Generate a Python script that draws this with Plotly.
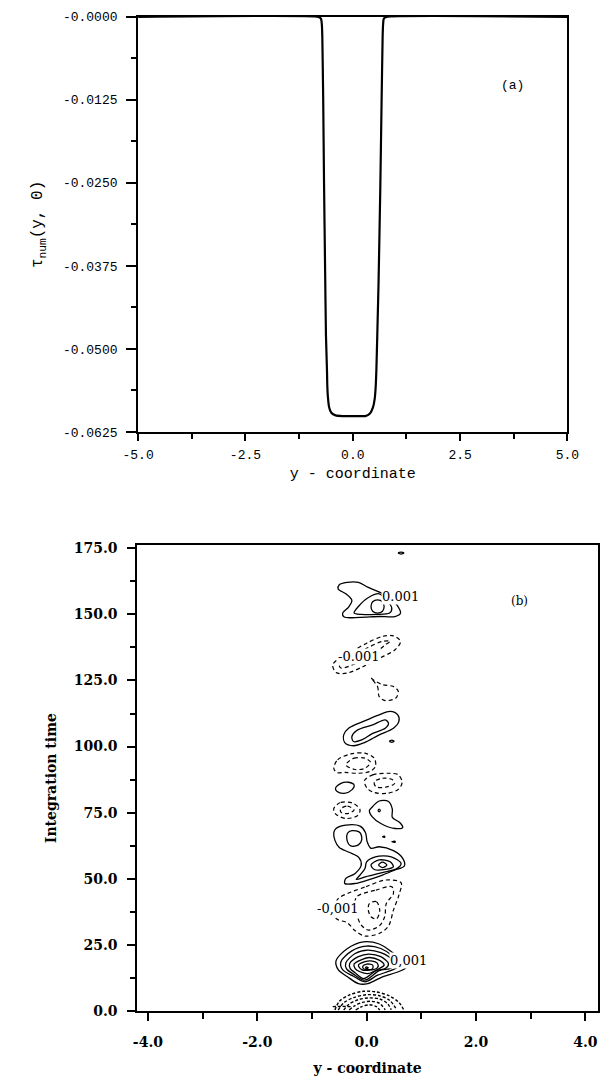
import plotly.graph_objects as go

# ---------------- Panel (a) data ----------------
a_y_coord = [-5.0, -0.80, -0.74, -0.72, -0.71, -0.69, -0.67, -0.645, -0.625, -0.60, -0.595,
             -0.58, -0.55, -0.50, -0.40, -0.23, 0.0, 0.29, 0.40, 0.47, 0.51, 0.535, 0.55,
             0.57, 0.60, 0.64, 0.67, 0.695, 0.705, 0.72, 0.78, 5.0]
a_tau = [0.0, 0.0, -0.0003, -0.0012, -0.003, -0.012, -0.025, -0.038, -0.048, -0.0535, -0.0553,
         -0.0572, -0.0588, -0.0596, -0.0600, -0.0601, -0.0601, -0.0601, -0.0597, -0.0588, -0.0575,
         -0.0555, -0.053, -0.048, -0.040, -0.026, -0.013, -0.003, -0.0012, -0.0003, 0.0, 0.0]
a_xticks = [-5.0, -2.5, 0.0, 2.5, 5.0]
a_xticklabels = ["-5.0", "-2.5", "0.0", "2.5", "5.0"]
a_yticks = [0.0, -0.0125, -0.025, -0.0375, -0.05, -0.0625]
a_yticklabels = ["-0.0000", "-0.0125", "-0.0250", "-0.0375", "-0.0500", "-0.0625"]

# ---------------- Panel (b) contour paths (y-coordinate, time) ----------------
# positive contours (solid)
p150_outer = [(-0.50, 161.2), (-0.36, 162.1), (-0.15, 162.1), (0.02, 160.3), (0.20, 158.7), (0.40, 156.8),
              (0.55, 153.7), (0.62, 150.5), (0.52, 149.2), (0.23, 149.2), (-0.12, 148.9), (-0.41, 149.0),
              (-0.44, 150.5), (-0.33, 152.8), (-0.27, 155.3), (-0.38, 157.8), (-0.52, 159.6)]
p150_mid = [(0.02, 156.2), (0.23, 157.8), (0.37, 155.3), (0.46, 152.4), (0.42, 150.5), (0.17, 150.0),
            (-0.09, 150.0), (-0.23, 150.5), (-0.15, 153.0)]
p150_inner = [(0.08, 153.0), (0.11, 154.8), (0.20, 155.5), (0.29, 154.8), (0.32, 153.0), (0.29, 151.2),
              (0.20, 150.5), (0.11, 151.2)]
p173_dash = [(0.58, 173.2), (0.63, 173.6), (0.68, 173.2), (0.63, 172.8)]
p105_outer = [(-0.42, 104.4), (-0.33, 106.9), (-0.06, 109.5), (0.23, 112.0), (0.43, 113.3), (0.57, 112.0),
              (0.59, 109.5), (0.49, 106.9), (0.23, 104.4), (-0.04, 101.5), (-0.24, 100.3), (-0.40, 101.5)]
p105_inner = [(-0.27, 103.8), (-0.18, 106.1), (0.11, 108.2), (0.34, 110.1), (0.40, 108.8), (0.34, 106.9),
              (0.11, 105.0), (-0.09, 102.5), (-0.24, 101.9)]
p102_dot = [(0.42, 102.0), (0.46, 102.4), (0.50, 102.0), (0.46, 101.6)]
p85_small = [(-0.57, 84.2), (-0.47, 86.1), (-0.33, 86.5), (-0.23, 85.5), (-0.27, 83.6), (-0.41, 82.3),
             (-0.54, 83.0)]
p75_tear = [(0.08, 76.6), (0.23, 79.4), (0.40, 79.2), (0.47, 76.3), (0.47, 73.2), (0.61, 71.2), (0.66, 69.4),
            (0.52, 69.0), (0.26, 70.9), (0.10, 73.5), (0.05, 75.8)]
p76_dot = [(0.21, 75.8), (0.23, 76.3), (0.25, 75.8), (0.23, 75.3)]
p66_dot = [(0.29, 65.9), (0.33, 66.1), (0.33, 65.7)]
p64_dot = [(0.46, 64.0), (0.52, 64.2), (0.52, 63.8)]
p58_outer = [(-0.56, 69.0), (-0.38, 70.3), (-0.12, 69.9), (-0.02, 67.4), (0.01, 64.0), (0.08, 61.5),
             (0.23, 62.1), (0.49, 60.6), (0.66, 57.7), (0.69, 54.8), (0.52, 53.3), (0.29, 51.4),
             (0.02, 49.5), (-0.21, 48.2), (-0.40, 48.2), (-0.38, 50.1), (-0.21, 52.0), (-0.10, 55.0),
             (-0.14, 58.0), (-0.32, 60.0), (-0.50, 61.8), (-0.58, 64.5), (-0.60, 67.5)]
p65_lobe = [(-0.35, 67.2), (-0.27, 68.2), (-0.12, 67.4), (-0.09, 64.7), (-0.15, 62.8), (-0.29, 62.4),
            (-0.36, 64.7)]
p55_mid = [(0.0, 56.4), (0.16, 58.3), (0.45, 58.3), (0.63, 55.8), (0.56, 53.9), (0.29, 52.3), (-0.01, 50.8),
           (-0.19, 49.7), (-0.12, 51.4), (-0.03, 53.9)]
p55_inner = [(0.08, 55.2), (0.23, 57.1), (0.43, 56.4), (0.49, 54.5), (0.34, 53.5), (0.14, 53.5)]
p55_core = [(0.22, 55.2), (0.29, 56.3), (0.37, 55.2), (0.29, 54.2)]
p16_l1 = [(-0.56, 18.9), (-0.35, 23.6), (-0.06, 26.1), (0.23, 25.3), (0.46, 22.3), (0.66, 18.9), (0.72, 16.4),
          (0.58, 14.8), (0.29, 12.9), (0.02, 10.3), (-0.15, 10.3), (-0.35, 12.9), (-0.52, 15.6)]
p16_l2 = [(-0.47, 18.6), (-0.27, 22.7), (-0.01, 24.5), (0.26, 23.6), (0.49, 20.5), (0.61, 17.3), (0.46, 15.4),
          (0.20, 13.5), (-0.03, 11.0), (-0.24, 13.1), (-0.44, 15.6)]
p16_l3 = [(-0.38, 18.2), (-0.21, 21.7), (0.02, 23.0), (0.26, 22.0), (0.46, 19.4), (0.46, 16.4), (0.23, 15.2),
          (-0.03, 11.6), (-0.24, 13.9), (-0.37, 16.0)]
p16_l4 = [(-0.31, 17.9), (-0.15, 20.5), (0.04, 21.5), (0.26, 20.5), (0.40, 17.9), (0.34, 16.0), (0.17, 15.2),
          (-0.05, 12.2), (-0.21, 14.4), (-0.30, 16.0)]
p16_l5 = [(-0.23, 17.7), (-0.09, 19.4), (0.05, 20.2), (0.23, 19.2), (0.32, 17.3), (0.23, 16.0), (0.02, 14.1),
          (-0.12, 14.8), (-0.21, 16.0)]
p16_l6 = [(-0.15, 17.3), (-0.03, 18.6), (0.08, 18.9), (0.20, 17.9), (0.20, 16.4), (0.05, 15.4), (-0.09, 15.6)]
p16_l7 = [(-0.07, 16.9), (0.0, 17.7), (0.11, 17.3), (0.11, 16.0), (0.0, 15.6), (-0.06, 16.0)]
p16_core = [(-0.02, 16.3), (0.0, 16.6), (0.03, 16.3), (0.0, 16.0)]

# negative contours (dashed)
n135_outer = [(-0.62, 130.9), (-0.50, 133.4), (-0.27, 136.0), (0.0, 139.1), (0.29, 141.7), (0.49, 141.9),
              (0.62, 139.8), (0.52, 136.6), (0.23, 133.4), (-0.06, 130.3), (-0.36, 127.8), (-0.56, 128.0)]
n135_inner = [(-0.47, 129.7), (-0.18, 131.6), (0.11, 134.7), (0.34, 138.5), (0.43, 139.8), (0.29, 139.8),
              (0.0, 137.2), (-0.29, 134.1), (-0.50, 130.9)]
n121_loop = [(0.08, 125.9), (0.20, 122.7), (0.23, 118.9), (0.34, 117.4), (0.53, 118.3), (0.58, 120.8),
             (0.49, 122.7), (0.29, 123.4), (0.14, 125.0)]
n94_outer = [(-0.60, 91.8), (-0.53, 95.0), (-0.29, 97.2), (-0.03, 97.5), (0.14, 95.6), (0.16, 92.4),
             (0.05, 90.5), (-0.15, 89.9), (-0.40, 90.2), (-0.55, 90.2)]
n94_inner = [(-0.38, 93.1), (-0.23, 95.6), (-0.03, 95.6), (0.07, 94.1), (-0.03, 91.8), (-0.23, 91.4)]
n86_outer = [(-0.04, 87.1), (0.11, 89.3), (0.40, 89.9), (0.58, 89.3), (0.65, 86.5), (0.58, 83.8), (0.37, 82.3),
             (0.14, 82.6), (0.01, 84.2)]
n86_inner = [(0.14, 86.7), (0.29, 88.0), (0.46, 87.6), (0.51, 86.0), (0.34, 84.6), (0.17, 84.8)]
n76_outer = [(-0.60, 76.6), (-0.47, 78.9), (-0.24, 78.5), (-0.12, 76.0), (-0.17, 73.8), (-0.38, 72.8),
             (-0.57, 74.5)]
n76_inner = [(-0.48, 76.3), (-0.35, 77.5), (-0.23, 76.0), (-0.33, 74.7), (-0.46, 75.0)]
n38_outer = [(-0.35, 44.4), (-0.01, 47.0), (0.34, 49.5), (0.63, 48.5), (0.59, 43.8), (0.49, 38.1),
             (0.40, 32.1), (0.23, 29.3), (-0.03, 28.3), (-0.21, 30.3), (-0.35, 33.3), (-0.56, 35.0),
             (-0.59, 38.8), (-0.52, 42.5)]
n38_mid = [(-0.18, 43.2), (0.17, 45.7), (0.46, 47.0), (0.49, 44.4), (0.36, 40.6), (0.33, 35.6), (0.23, 32.1),
           (0.02, 30.6), (-0.11, 32.8), (-0.17, 35.8), (-0.22, 39.6)]
n38_inner = [(0.05, 40.6), (0.18, 41.3), (0.24, 37.9), (0.18, 34.8), (0.08, 35.6), (0.03, 38.2)]
# open dashed arcs meeting the lower boundary
n4_arc1 = [(-0.58, 0.3), (-0.50, 3.6), (-0.32, 6.0), (-0.06, 7.4), (0.17, 7.2), (0.42, 5.6), (0.60, 3.0),
           (0.68, 0.3)]
n4_arc2 = [(-0.52, 0.3), (-0.42, 3.0), (-0.24, 5.0), (0.0, 6.1), (0.22, 5.8), (0.42, 4.0), (0.55, 0.4)]
n4_arc3 = [(-0.42, 0.3), (-0.33, 2.4), (-0.16, 4.2), (0.04, 4.9), (0.24, 4.5), (0.38, 2.8), (0.45, 0.4)]
n4_arc4 = [(-0.32, 0.3), (-0.22, 1.9), (-0.06, 3.3), (0.10, 3.6), (0.24, 2.8), (0.34, 0.4)]
n4_arc5 = [(-0.20, 0.3), (-0.10, 1.5), (0.05, 2.3), (0.18, 1.6), (0.24, 0.3)]
n4_arc6 = [(-0.62, 1.6), (-0.45, 1.7), (-0.28, 1.6)]

positive_paths = [p150_outer, p150_mid, p150_inner, p173_dash, p105_outer, p105_inner, p102_dot,
                  p85_small, p75_tear, p76_dot, p66_dot, p64_dot, p58_outer, p65_lobe, p55_mid,
                  p55_inner, p55_core, p16_l1, p16_l2, p16_l3, p16_l4, p16_l5, p16_l6, p16_l7, p16_core]
negative_loops = [n135_outer, n135_inner, n121_loop, n94_outer, n94_inner, n86_outer, n86_inner,
                  n76_outer, n76_inner, n38_outer, n38_mid, n38_inner]
negative_arcs = [n4_arc1, n4_arc2, n4_arc3, n4_arc4, n4_arc5, n4_arc6]

contour_labels = [("0.001", 0.62, 156.6), ("-0.001", -0.14, 134.1), ("-0,001", -0.52, 38.8),
                  ("0,001", 0.76, 19.2)]

b_xticks = [-4.0, -2.0, 0.0, 2.0, 4.0]
b_xticklabels = ["-4.0", "-2.0", "0.0", "2.0", "4.0"]
b_yticks = [0, 25, 50, 75, 100, 125, 150, 175]
b_yticklabels = ["0.0", "25.0", "50.0", "75.0", "100.0", "125.0", "150.0", "175.0"]

# ---------------- Figure ----------------
W, H = 610, 1082
fig = go.Figure()

fig.add_trace(go.Scatter(x=a_y_coord, y=a_tau, mode="lines", line=dict(color="black", width=2.2),
                         line_shape="spline", line_smoothing=0.4, xaxis="x", yaxis="y",
                         showlegend=False, hoverinfo="skip"))


def closed(path):
    pts = list(path) + [path[0]]
    return [p[0] for p in pts], [p[1] for p in pts]


for path in positive_paths:
    xs, ys = closed(path)
    fig.add_trace(go.Scatter(x=xs, y=ys, mode="lines", line=dict(color="black", width=1.3),
                             line_shape="spline", line_smoothing=0.9, xaxis="x2", yaxis="y2",
                             showlegend=False, hoverinfo="skip"))
for path in negative_loops:
    xs, ys = closed(path)
    fig.add_trace(go.Scatter(x=xs, y=ys, mode="lines",
                             line=dict(color="black", width=1.2, dash="4px,3px"),
                             line_shape="spline", line_smoothing=0.9, xaxis="x2", yaxis="y2",
                             showlegend=False, hoverinfo="skip"))
for path in negative_arcs:
    fig.add_trace(go.Scatter(x=[p[0] for p in path], y=[p[1] for p in path], mode="lines",
                             line=dict(color="black", width=1.4, dash="3px,2px"),
                             line_shape="spline", line_smoothing=0.9, xaxis="x2", yaxis="y2",
                             showlegend=False, hoverinfo="skip"))

annotations = []
for txt, lx, ly in contour_labels:
    annotations.append(dict(x=lx, y=ly, xref="x2", yref="y2", text=txt, showarrow=False,
                            bgcolor="white", borderpad=0,
                            font=dict(family="DejaVu Serif", size=13, color="black")))
annotations.append(dict(x=3.72, y=-0.0104, xref="x", yref="y", text="(a)", showarrow=False,
                        font=dict(family="Liberation Mono", size=13, color="black")))
annotations.append(dict(x=2.80, y=155.0, xref="x2", yref="y2", text="(b)", showarrow=False,
                        font=dict(family="DejaVu Serif", size=12, color="black")))

mono = dict(family="Liberation Mono", size=13, color="black")
serifb = dict(family="DejaVu Serif", size=14, color="black", weight="bold")

fig.update_layout(
    width=W, height=H, margin=dict(l=0, r=0, t=0, b=0),
    paper_bgcolor="white", plot_bgcolor="white",
    annotations=annotations,
    xaxis=dict(domain=[128 / W, 578 / W], range=[-5.0, 5.0], tickvals=a_xticks, ticktext=a_xticklabels,
               ticks="outside", ticklen=7, tickwidth=2, tickcolor="black",
               minor=dict(tickvals=[-3.75, -1.25, 1.25, 3.75], ticks="outside", ticklen=5,
                          tickwidth=2, tickcolor="black"),
               showline=True, linewidth=2, linecolor="black", mirror=True,
               showgrid=False, zeroline=False, tickfont=mono, ticklabelstandoff=2,
               title=dict(text="y - coordinate", font=dict(family="Liberation Mono", size=15,
                                                           color="black"), standoff=6),
               anchor="y"),
    yaxis=dict(domain=[1 - 432 / H, 1 - 11 / H], range=[-0.0625, 0.0], tickvals=a_yticks,
               ticktext=a_yticklabels, ticks="outside", ticklen=10, tickwidth=2, tickcolor="black",
               minor=dict(tickvals=[-0.00625, -0.01875, -0.03125, -0.04375, -0.05625],
                          ticks="outside", ticklen=5, tickwidth=2, tickcolor="black"),
               showline=True, linewidth=2, linecolor="black", mirror=True,
               showgrid=False, zeroline=False, tickfont=mono, ticklabelstandoff=6,
               title=dict(text="τ<sub>num</sub>(y, 0)", font=dict(family="Liberation Mono", size=16,
                                                                  color="black"), standoff=16),
               anchor="x"),
    xaxis2=dict(domain=[127 / W, 1.0], range=[-4.197, 4.232], tickvals=b_xticks, ticktext=b_xticklabels,
                ticks="outside", ticklen=8, tickwidth=1.5, tickcolor="black",
                minor=dict(tickvals=[-3.0, -1.0, 1.0, 3.0], ticks="outside", ticklen=6,
                           tickwidth=1.5, tickcolor="black"),
                showline=True, linewidth=1.5, linecolor="black", mirror=True,
                showgrid=False, zeroline=False, tickfont=serifb, ticklabelstandoff=10,
                title=dict(text="y - coordinate", font=serifb, standoff=14),
                anchor="y2"),
    yaxis2=dict(domain=[1 - 1019 / H, 1 - 547 / H], range=[0.0, 176.1], tickvals=b_yticks,
                ticktext=b_yticklabels, ticks="outside", ticklen=8, tickwidth=1.5, tickcolor="black",
                minor=dict(tickvals=[12.5, 37.5, 62.5, 87.5, 112.5, 137.5, 162.5], ticks="outside",
                           ticklen=5, tickwidth=1.5, tickcolor="black"),
                showline=True, linewidth=1.5, linecolor="black", mirror=True,
                showgrid=False, zeroline=False, tickfont=serifb, ticklabelstandoff=7,
                title=dict(text="Integration time", font=serifb, standoff=14),
                anchor="x2"),
)

fig.write_html("out.html")
